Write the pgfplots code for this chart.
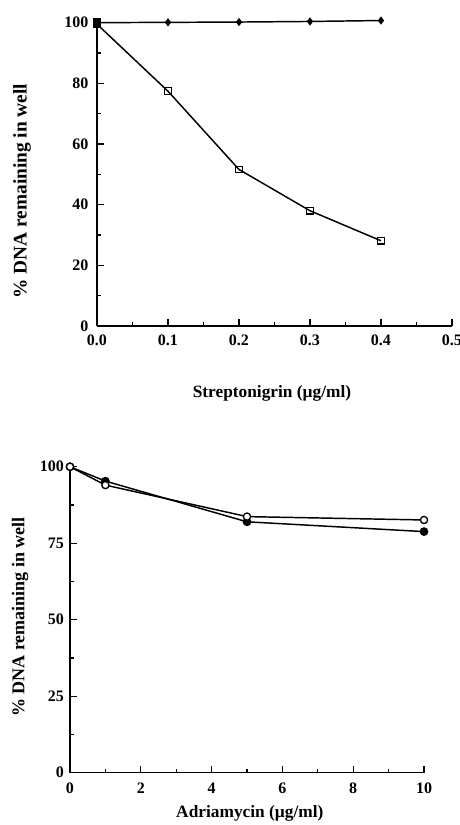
\documentclass[border=0pt]{standalone}
\usepackage{fontspec}
\setmainfont{Liberation Serif}
\usepackage{pgfplots}
\pgfplotsset{compat=1.18}
\begin{document}
\begin{tikzpicture}
\useasboundingbox (0,0) rectangle (345pt,618.75pt);
\pgfplotsset{
  myax/.style={
    scale only axis,
    axis x line*=bottom, axis y line*=left,
    axis line style={-, line width=0.9pt},
    tick align=inside,
    major tick length=5pt, minor tick length=3pt,
    every tick/.style={line width=0.8pt, black},
    minor x tick num=1, minor y tick num=1,
    /pgf/number format/assume math mode=true,
    tick label style={font=\fontsize{12}{14}\selectfont\bfseries},
    clip=false,
  }
}
% top plot
\begin{axis}[myax,
  at={(72.75pt,374.25pt)}, anchor=south west,
  width=266.25pt, height=227.5pt,
  xmin=0, xmax=0.5, ymin=0, ymax=100,
  xtick={0,0.1,0.2,0.3,0.4,0.5},
  ytick={0,20,40,60,80,100},
  x tick label style={/pgf/number format/fixed, /pgf/number format/fixed zerofill, /pgf/number format/precision=1, yshift=-3pt},
  yticklabel style={xshift=-3pt},
  xlabel={Streptonigrin (µg/ml)},
  ylabel={\% DNA remaining in well},
  xlabel style={font=\fontsize{13}{15}\selectfont\bfseries, at={(axis description cs:0.493,-0.221)}, anchor=center},
  ylabel style={font=\fontsize{14.5}{16}\selectfont\bfseries, at={(axis description cs:-0.211,0.445)}, anchor=center, rotate=0},
]
\addplot[black, line width=1.1pt, mark=diamond*, mark size=2.2pt, mark options={solid, fill=black}]
  coordinates {(0,100) (0.1,100.1) (0.2,100.2) (0.3,100.4) (0.4,100.7)};
\addplot[black, line width=1.1pt, only marks, mark=square*, mark size=2.6pt]
  coordinates {(0,100)};
\addplot[black, line width=1.1pt, mark=square, mark size=2.5pt, mark options={solid, line width=0.9pt, fill=white}]
  coordinates {(0,99.5) (0.1,77.4) (0.2,51.6) (0.3,38.0) (0.4,28.1)};
\end{axis}
% bottom plot
\begin{axis}[myax,
  at={(52.5pt,39.2pt)}, anchor=south west,
  width=265.5pt, height=229.5pt,
  xmin=0, xmax=10, ymin=0, ymax=100,
  xtick={0,2,4,6,8,10},
  ytick={0,25,50,75,100},
  yticklabel style={xshift=-1pt},
  xticklabel style={yshift=-4pt},
  xlabel={Adriamycin (µg/ml)},
  ylabel={\% DNA remaining in well},
  xlabel style={font=\fontsize{13}{15}\selectfont\bfseries, at={(axis description cs:0.508,-0.132)}, anchor=center},
  ylabel style={font=\fontsize{13.5}{15}\selectfont\bfseries, at={(axis description cs:-0.141,0.509)}, anchor=center, rotate=0},
]
\addplot[black, line width=1.1pt, mark=*, mark size=2.7pt, mark options={solid, fill=black}]
  coordinates {(0,100) (1,95.3) (5,82.0) (10,78.8)};
\addplot[black, line width=1.1pt, mark=*, mark size=2.7pt, mark options={solid, fill=white, line width=1pt}]
  coordinates {(0,100) (1,94.0) (5,83.7) (10,82.6)};
\end{axis}
\end{tikzpicture}
\end{document}
